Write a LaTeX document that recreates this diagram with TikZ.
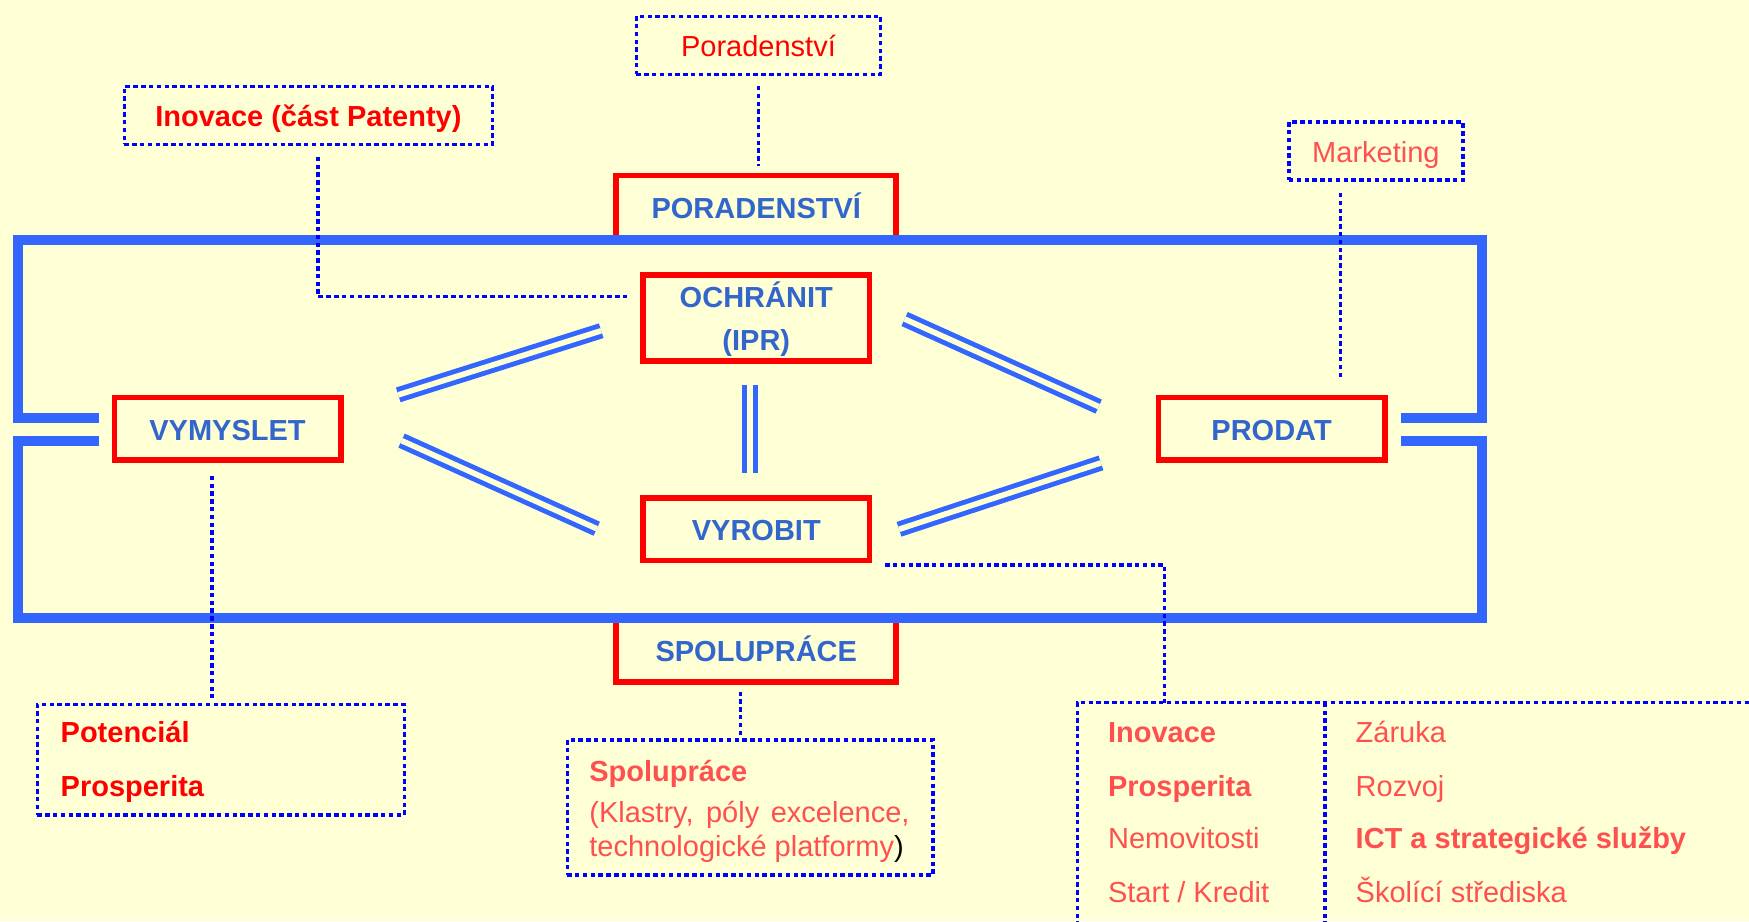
\documentclass[tikz,border=0pt]{standalone}
\usepackage{fontspec}
\setmainfont{Liberation Sans}
\usepackage{tikz}
\usetikzlibrary{calc}
\definecolor{bgyellow}{RGB}{255,255,214}
\definecolor{frameblue}{RGB}{51,102,255}
\definecolor{labelblue}{RGB}{51,102,204}
\definecolor{dotblue}{RGB}{0,0,255}
\definecolor{boxred}{RGB}{255,0,0}
\definecolor{notepink}{RGB}{255,80,80}
\newcommand\txtsize{\fontsize{13}{16}\selectfont}
\tikzset{
	stage/.style={draw=boxred, line width=2.5pt, text=labelblue, font=\txtsize\bfseries, inner sep=0pt, minimum width=101.5pt, minimum height=28pt, text height=10pt, text depth=0pt},
	note/.style={draw=dotblue, line width=1.5pt, dash pattern=on 2pt off 1.5pt, font=\txtsize, inner sep=0pt, minimum height=26pt, text height=10pt, text depth=0pt},
	link/.style={draw=dotblue, line width=1.5pt, dash pattern=on 2pt off 1.5pt},
	frame/.style={draw=frameblue, line width=4.5pt},
	pair/.style={draw=frameblue, line width=2.2pt, double=bgyellow, double distance=2.5pt},
	item/.style={anchor=base west, inner sep=0pt, text=notepink, font=\txtsize},
}

\begin{document}
\begin{tikzpicture}[x=0.5pt, y=-0.5pt]
	%%%%% START %%%%%
	\useasboundingbox (0, 0) rectangle (1568, 826);
	\fill[bgyellow] (0, 0) rectangle (1568, 826);

	% cervene kroky
	\node[stage, minimum width=125.5pt, minimum height=28.75pt] (poradenstvi) at (678, 186.25) {PORADENSTVÍ};
	\node[stage, minimum height=38.5pt, align=center, text height=29.5pt] (ochranit) at (678, 285) {OCHRÁNIT\\[3.5pt](IPR)};
	\node[stage] (vymyslet) at (204, 384.5) {VYMYSLET};
	\node[stage] (prodat) at (1140, 384.5) {PRODAT};
	\node[stage] (vyrobit) at (678, 474.5) {VYROBIT};
	\node[stage, minimum width=125.5pt, minimum height=28.75pt] (spoluprace) at (678, 582.75) {SPOLUPRÁCE};

	% modry ramec
	\draw[frame] (89, 375) -- (16, 375) -- (16, 215) -- (1329, 215) -- (1329, 375) -- (1256, 375);
	\draw[frame] (89, 395) -- (16, 395) -- (16, 554) -- (1329, 554) -- (1329, 395) -- (1256, 395);

	% dvojite cary
	\coordinate (vo1) at (357, 354);
	\coordinate (vo2) at (539, 296.5);
	\coordinate (vv1) at (360, 395);
	\coordinate (vv2) at (535, 474);
	\coordinate (ov1) at (672.5, 345);
	\coordinate (ov2) at (672.5, 424);
	\coordinate (op1) at (811, 286);
	\coordinate (op2) at (985, 364.5);
	\coordinate (rp1) at (806, 474.5);
	\coordinate (rp2) at (987, 415);
	\draw[pair] (vo1) -- (vo2);
	\draw[pair] (vv1) -- (vv2);
	\draw[pair] (ov1) -- (ov2);
	\draw[pair] (op1) -- (op2);
	\draw[pair] (rp1) -- (rp2);

	% teckovane poznamky
	\node[note, minimum width=109.5pt, text=boxred] (poradenstviD) at (680, 40.5) {Poradenství};
	\node[note, minimum width=165pt, text=boxred, font=\txtsize\bfseries] (inovaceD) at (276.5, 103.5) {Inovace (část Patenty)};
	\node[note, minimum width=78pt, text=notepink] (marketingD) at (1233.5, 135.5) {Marketing};
	\node[note, minimum width=164.5pt, minimum height=49.5pt] (potencialD) at (198, 681) {};
	\node[note, minimum width=164pt, minimum height=60.5pt] (spolupraceD) at (672.5, 724) {};

	\node[item, text=boxred, font=\txtsize\bfseries] (potencial) at (54, 666) {Potenciál};
	\node[item, text=boxred, font=\txtsize\bfseries] (prosperitaA) at (54, 714) {Prosperita};

	\node[item, font=\txtsize\bfseries] (spolupraceT) at (528, 701) {Spolupráce};
	\node[item] (klastry) at (528, 737) {\makebox[143.5pt][s]{(Klastry, póly excelence,}};
	\node[item] (platformy) at (528, 768) {technologické platformy\textcolor{black}{)}};

	% otevreny ramec vpravo dole
	\draw[link] (966, 830) -- (966, 630) -- (1570, 630);
	\draw[link] (1188, 630) -- (1188, 830);
	\coordinate (sluzbyTop) at (1044, 630);

	\node[item, font=\txtsize\bfseries] (inovaceB) at (993, 666) {Inovace};
	\node[item, font=\txtsize\bfseries] (prosperitaB) at (993, 714) {Prosperita};
	\node[item] (nemovitosti) at (993, 761) {Nemovitosti};
	\node[item] (start) at (993, 809) {Start / Kredit};
	\node[item] (zaruka) at (1215, 666) {Záruka};
	\node[item] (rozvoj) at (1215, 714) {Rozvoj};
	\node[item, font=\txtsize\bfseries] (ict) at (1215, 761) {ICT a strategické služby};
	\node[item] (skolici) at (1215, 809) {Školící střediska};

	% teckovane spojnice
	\draw[link, shorten <=4.5pt, shorten >=3pt] (poradenstviD.south) -- (poradenstviD.south |- poradenstvi.north);
	\draw[link, shorten <=4.75pt, shorten >=5.75pt] ([xshift=4.25pt]inovaceD.south) |- ([yshift=9.5pt]ochranit.west);
	\draw[link, shorten <=5pt, shorten >=6.5pt] ([xshift=-15.75pt]marketingD.south) -- ([xshift=-15.75pt]marketingD.south |- prodat.north);
	\draw[link, shorten <=5.75pt, shorten >=2pt] ([xshift=-7pt]vymyslet.south) -- ([xshift=-7pt]vymyslet.south |- potencialD.north);
	\draw[link, shorten <=5.75pt] ([yshift=-0.75pt]vyrobit.south east) -| (sluzbyTop);
	\draw[link, shorten <=3pt, shorten >=1pt] ([xshift=-7pt]spoluprace.south) -- ([xshift=-7pt]spoluprace.south |- spolupraceD.north);

	%%%%% END %%%%%
\end{tikzpicture}
\end{document}
